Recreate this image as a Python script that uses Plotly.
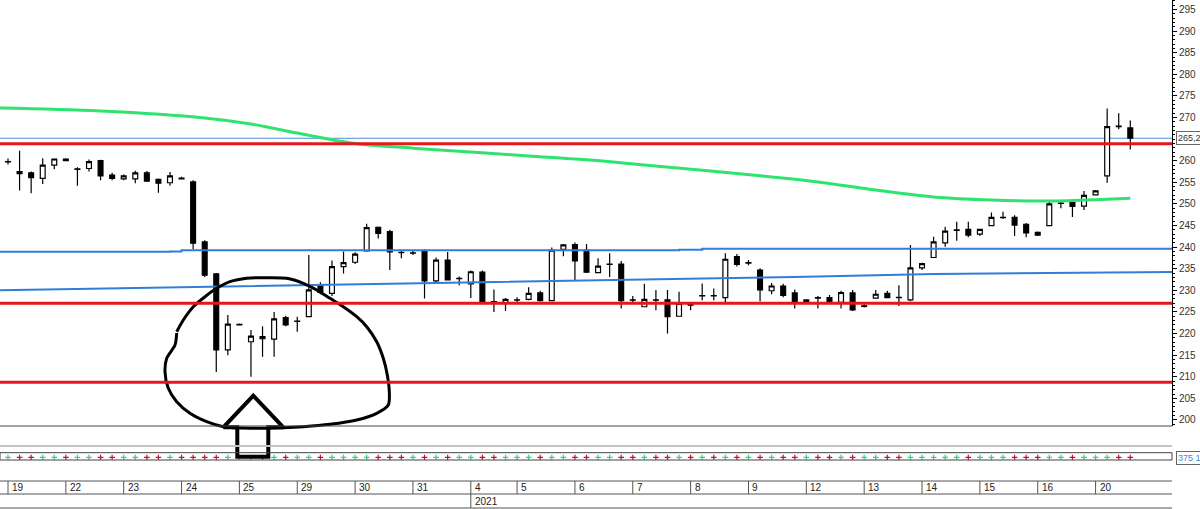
import plotly.graph_objects as go

# ---------------- data ----------------
DAYS = ["19", "22", "23", "24", "25", "29", "30", "31", "4", "5",
        "6", "7", "8", "9", "12", "13", "14", "15", "16", "20"]
CANDLES_PER_DAY = [5, 5, 5, 5, 5, 5, 5, 5, 4, 5, 5, 5, 5, 5, 5, 5, 5, 5, 5, 4]
YEAR_LABEL = "2021"
YEAR_START_DAY = "4"

OPEN = [259.7, 257.5, 257.2, 255.9, 259.0, 260.4, 258.0, 258.2, 260.0, 256.7,
        255.8, 255.8, 257.2, 255.7, 254.9, 256.0, 255.1, 241.2, 233.8, 216.2,
        222.0, 218.1, 219.3, 218.7, 223.7, 222.8, 223.9, 231.2, 229.3, 235.5,
        236.5, 239.1, 244.6, 243.6, 238.8, 238.6, 239.2, 232.2, 237.0, 232.7,
        231.5, 234.2, 227.4, 227.0, 227.7, 227.9, 229.4, 227.6, 239.5, 240.6,
        239.3, 234.1, 236.0, 236.1, 227.8, 226.2, 227.8, 227.8, 224.0, 226.7,
        228.7, 228.8, 228.3, 237.8, 236.3, 234.7, 229.9, 231.0, 229.4, 227.4,
        228.3, 228.3, 227.2, 229.4, 226.3, 228.2, 229.3, 228.4, 227.8, 235.2,
        237.6, 241.0, 243.9, 244.1, 243.0, 245.0, 246.8, 246.9, 245.3, 243.4,
        245.0, 250.1, 250.3, 249.5, 252.1, 256.5, 268.0, 267.6]
HIGH = [260.5, 262.3, 257.5, 260.6, 260.5, 260.6, 258.5, 260.3, 260.2, 257.2,
        256.8, 257.7, 257.6, 255.9, 257.4, 256.3, 255.5, 241.6, 234.0, 224.3,
        222.3, 220.8, 221.7, 225.0, 224.1, 223.9, 238.2, 231.9, 236.9, 239.0,
        238.8, 245.4, 244.8, 244.0, 239.3, 239.2, 239.5, 237.6, 238.9, 233.2,
        234.6, 234.6, 230.2, 228.2, 228.4, 230.7, 229.9, 239.9, 240.7, 241.1,
        240.7, 237.4, 238.6, 236.8, 228.7, 231.5, 230.1, 230.1, 229.7, 227.0,
        231.6, 230.4, 238.6, 238.4, 237.0, 235.1, 231.7, 231.5, 230.2, 227.9,
        228.7, 228.9, 229.9, 230.1, 226.8, 230.1, 229.9, 231.2, 240.5, 236.4,
        242.4, 244.7, 245.9, 245.9, 244.2, 248.0, 248.2, 247.4, 245.6, 243.6,
        250.9, 250.5, 251.1, 253.0, 253.2, 272.1, 271.0, 269.3]
LOW = [259.1, 253.1, 252.5, 254.6, 258.0, 259.9, 254.2, 257.5, 255.5, 255.5,
       255.5, 254.8, 255.1, 252.6, 254.2, 255.7, 239.5, 233.1, 211.1, 215.0,
       221.9, 210.0, 214.6, 214.6, 221.7, 220.4, 223.8, 229.1, 228.7, 233.9,
       236.1, 239.0, 242.0, 234.7, 237.4, 238.2, 228.1, 231.9, 232.3, 231.2,
       228.2, 227.3, 225.0, 225.2, 227.1, 227.7, 227.4, 227.5, 237.9, 232.4,
       234.0, 234.0, 233.1, 225.8, 227.3, 226.1, 225.4, 220.0, 223.9, 225.4,
       227.7, 227.7, 226.8, 235.5, 235.8, 227.5, 229.1, 228.4, 225.8, 227.3,
       225.8, 227.3, 225.8, 225.2, 226.0, 228.1, 228.2, 226.4, 227.5, 234.7,
       237.5, 240.1, 241.5, 242.3, 242.6, 244.9, 246.5, 242.6, 242.3, 242.6,
       244.9, 249.0, 247.0, 248.6, 252.0, 254.9, 267.3, 262.6]
CLOSE = [259.8, 257.0, 256.1, 259.0, 260.4, 260.0, 258.1, 259.8, 256.5, 255.9,
         256.5, 257.2, 255.3, 254.8, 256.5, 255.8, 240.9, 233.5, 216.2, 222.2,
         222.1, 219.4, 218.8, 223.4, 222.0, 222.9, 230.1, 229.5, 235.5, 236.4,
         238.4, 244.5, 243.2, 238.9, 238.7, 238.7, 232.2, 237.0, 232.4, 232.8,
         234.3, 227.4, 227.3, 227.9, 227.8, 229.3, 227.6, 239.3, 240.5, 236.8,
         234.2, 235.6, 236.1, 227.6, 227.7, 227.9, 227.7, 223.9, 227.0, 226.6,
         228.8, 228.7, 237.2, 236.0, 236.4, 230.1, 231.0, 228.8, 227.4, 227.8,
         228.2, 227.4, 229.5, 225.5, 226.4, 229.1, 228.3, 228.3, 235.2, 236.2,
         241.2, 243.7, 244.0, 242.8, 244.1, 246.9, 246.9, 245.1, 243.3, 242.8,
         250.0, 250.2, 249.4, 252.0, 253.0, 267.9, 267.9, 265.2]

# moving averages read at sampled candle positions
GREEN_MA_AT = [-1, 8, 17, 21, 25, 30, 35, 40, 45, 50, 55, 60, 65, 70, 75, 80, 85, 90, 95, 97]
GREEN_MA = [272.2, 271.5, 269.9, 268.5, 266.4, 264.0, 262.9, 262.0, 261.1, 260.2,
            259.0, 257.8, 256.5, 255.1, 253.2, 251.6, 250.9, 250.7, 251.1, 251.3]
BLUE_UPPER_AT = [-1, 14, 15, 58, 60, 102]
BLUE_UPPER = [238.95, 239.0, 239.3, 239.4, 239.6, 239.65]
BLUE_LOWER_AT = [-1, 17, 34, 51, 60, 68, 80, 90, 102]
BLUE_LOWER = [230.0, 230.8, 231.5, 232.2, 232.7, 233.1, 233.8, 234.0, 234.3]

RED_LEVELS = [263.9, 227.0, 208.7]
LAST_PRICE = 265.2
LAST_PRICE_LABEL = "265,2"
INDICATOR_LABEL = "375 1"

# hand-drawn sketch (screen pixels)
SKETCH_LOOP_X = [176.7, 183.3, 193.3, 205, 216.7, 230, 246.7, 266.7, 286.7, 303.3, 316.7, 330,
                 343.3, 356.7, 366.7, 376.7, 383.3, 387.3, 389.3, 388.3, 376.7, 356.7, 330,
                 303.3, 283.3, 250, 223.3, 206.7, 190, 176.7, 168.3, 165, 166.7, 175, 176.7]
SKETCH_LOOP_Y = [331.7, 320, 306.7, 296.7, 288.3, 281.7, 278.3, 277.7, 278.3, 283.3, 290, 298.3,
                 306.7, 316.7, 326.7, 341.7, 358.3, 375, 391.7, 405, 413.3, 420, 424.3,
                 426.7, 427.7, 428.3, 426.7, 421.7, 413.3, 401.7, 388.3, 371.7, 358.3, 345, 333]
SKETCH_ARROW_X = [223.3, 253.3, 283.3, 268.3, 268.3, 237.3, 237.3, 223.3]
SKETCH_ARROW_Y = [427.3, 395.7, 427.3, 427.3, 456.7, 456.7, 427.3, 427.3]

# ---------------- layout geometry ----------------
W, H = 1200, 509
PLOT_W = 1172
STEP_PX = 11.57
FIRST_PX = 8.0
X_MIN = -FIRST_PX / STEP_PX
X_MAX = X_MIN + PLOT_W / STEP_PX
Y_MIN, Y_MAX = 198.6, 297.2
MAIN_BOTTOM_PX = 426


def pyp(px):
    return 1 - px / H


n = len(OPEN)
idx = list(range(n))
day_start = []
s = 0
for c in CANDLES_PER_DAY:
    day_start.append(s)
    s += c

# major ticks every 5, the one hidden under the last-price box left out
major_ticks = [v for v in range(200, 300, 5) if abs(v - LAST_PRICE) > 2]

RED = "#e5161d"
BLUE = "#2f7fd8"

fig = go.Figure()

fig.add_trace(go.Candlestick(
    x=idx, open=OPEN, high=HIGH, low=LOW, close=CLOSE,
    increasing=dict(line=dict(color="black", width=1.2), fillcolor="white"),
    decreasing=dict(line=dict(color="black", width=1.2), fillcolor="black"),
    whiskerwidth=0, hoverinfo="skip", xaxis="x", yaxis="y"))

fig.add_trace(go.Scatter(x=BLUE_UPPER_AT, y=BLUE_UPPER, mode="lines", line=dict(color=BLUE, width=2, shape="hv"),
                         hoverinfo="skip", xaxis="x", yaxis="y"))
fig.add_trace(go.Scatter(x=BLUE_LOWER_AT, y=BLUE_LOWER, mode="lines", line=dict(color=BLUE, width=2),
                         hoverinfo="skip", xaxis="x", yaxis="y"))
fig.add_trace(go.Scatter(x=GREEN_MA_AT, y=GREEN_MA, mode="lines", line=dict(color="#2ee46f", width=3, shape="spline"),
                         hoverinfo="skip", xaxis="x", yaxis="y"))

# indicator strip markers
dot_colors = ["#2fd47c" if c >= o else "#c8102e" for o, c in zip(OPEN, CLOSE)]
fig.add_trace(go.Scatter(x=idx, y=[0.35] * n, mode="markers", xaxis="x", yaxis="y2",
                         marker=dict(symbol="cross-thin", size=4, line=dict(width=1.2, color=dot_colors)),
                         hoverinfo="skip"))

# hand-drawn sketch on pixel overlay axes
fig.add_trace(go.Scatter(x=SKETCH_LOOP_X, y=SKETCH_LOOP_Y, mode="lines", xaxis="x3", yaxis="y3",
                         line=dict(color="black", width=3, shape="spline", smoothing=0.8), hoverinfo="skip"))
fig.add_trace(go.Scatter(x=SKETCH_ARROW_X, y=SKETCH_ARROW_Y, mode="lines", xaxis="x3", yaxis="y3",
                         line=dict(color="black", width=4), hoverinfo="skip"))

shapes = []
for lvl in RED_LEVELS:
    shapes.append(dict(type="line", xref="paper", x0=0, x1=1, yref="y", y0=lvl, y1=lvl,
                       line=dict(color=RED, width=3), layer="above"))
shapes.append(dict(type="line", xref="paper", x0=0, x1=1, yref="y", y0=LAST_PRICE, y1=LAST_PRICE,
                   line=dict(color="#4a8fdc", width=1), layer="below"))
# pane separators
shapes.append(dict(type="line", xref="paper", x0=0, x1=1, yref="paper", y0=pyp(MAIN_BOTTOM_PX), y1=pyp(MAIN_BOTTOM_PX),
                   line=dict(color="#444", width=1)))
shapes.append(dict(type="line", xref="paper", x0=0, x1=1, yref="paper", y0=pyp(446), y1=pyp(446),
                   line=dict(color="#c4c4c4", width=2)))
shapes.append(dict(type="rect", xref="paper", x0=0, x1=1, yref="paper", y0=pyp(460), y1=pyp(452.7),
                   line=dict(color="#444", width=1)))
# date rows
for ypx in (481, 494, 508):
    shapes.append(dict(type="line", xref="paper", x0=0, x1=1, yref="paper", y0=pyp(ypx), y1=pyp(ypx),
                       line=dict(color="#555", width=1)))
annotations = []
for d, st in zip(DAYS, day_start):
    shapes.append(dict(type="line", xref="x", x0=st, x1=st, yref="paper", y0=pyp(494), y1=pyp(481),
                       line=dict(color="#555", width=1)))
    annotations.append(dict(text=d, xref="x", x=st, xanchor="left", xshift=2, yref="paper", y=pyp(487.5),
                            yanchor="middle", showarrow=False, font=dict(family="Arial", size=10, color="#222")))
ys = day_start[DAYS.index(YEAR_START_DAY)]
shapes.append(dict(type="line", xref="x", x0=ys, x1=ys, yref="paper", y0=pyp(508), y1=pyp(494),
                   line=dict(color="#555", width=1)))
annotations.append(dict(text=YEAR_LABEL, xref="x", x=ys, xanchor="left", xshift=2, yref="paper", y=pyp(501),
                        yanchor="middle", showarrow=False, font=dict(family="Arial", size=10, color="#222")))

annotations.append(dict(text=LAST_PRICE_LABEL, xref="paper", x=1, xanchor="left", xshift=4, yref="y", y=LAST_PRICE,
                        yanchor="middle", showarrow=False, font=dict(family="Arial", size=9, color="#333"),
                        bordercolor="#666", borderwidth=1, borderpad=1, bgcolor="white"))
annotations.append(dict(text=INDICATOR_LABEL, xref="paper", x=1, xanchor="left", xshift=4, yref="paper", y=pyp(458),
                        yanchor="middle", showarrow=False, font=dict(family="Arial", size=9, color="#3a8ee6"),
                        bordercolor="#666", borderwidth=1, borderpad=1, bgcolor="white"))

fig.update_layout(
    width=W, height=H, margin=dict(l=0, r=W - PLOT_W, t=0, b=0),
    paper_bgcolor="white", plot_bgcolor="rgba(0,0,0,0)", showlegend=False,
    boxgap=0.4,
    xaxis=dict(domain=[0, 1], range=[X_MIN, X_MAX], visible=False, anchor="y",
               rangeslider=dict(visible=False), fixedrange=True),
    yaxis=dict(domain=[pyp(MAIN_BOTTOM_PX), 1], range=[Y_MIN, Y_MAX], side="right", anchor="x",
               showgrid=False, zeroline=False, showline=True, linecolor="#000", linewidth=1,
               ticks="outside", ticklen=4, tickwidth=1, tickcolor="#000",
               tickmode="array", tickvals=major_ticks, ticktext=[str(v) for v in major_ticks],
               tickfont=dict(family="Arial", size=10, color="#333"), ticklabelstandoff=0,
               minor=dict(ticks="outside", dtick=1, tick0=0, ticklen=2, tickcolor="#000"), fixedrange=True),
    yaxis2=dict(domain=[pyp(460), pyp(452.7)], range=[0, 1], visible=False, anchor="x", fixedrange=True),
    xaxis3=dict(domain=[0, 1], range=[0, PLOT_W], visible=False, anchor="y3", fixedrange=True),
    yaxis3=dict(domain=[0, 1], range=[H, 0], visible=False, anchor="x3", fixedrange=True),
    shapes=shapes, annotations=annotations,
)

fig.write_html("out.html")
